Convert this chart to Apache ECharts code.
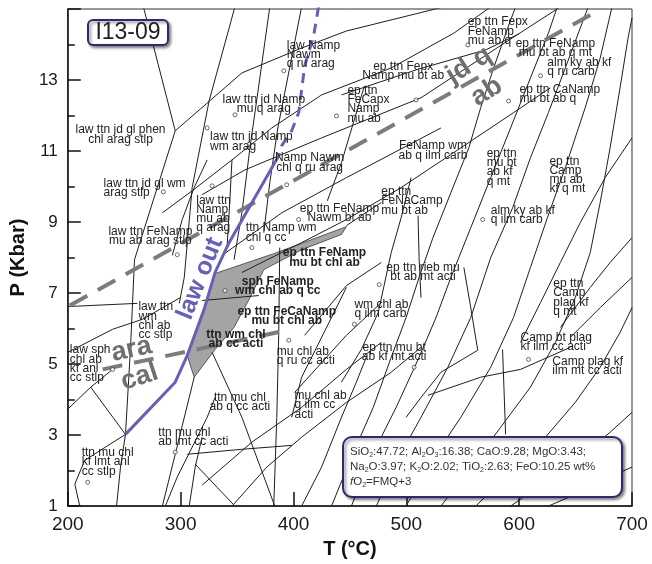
<!DOCTYPE html>
<html>
<head>
<meta charset="utf-8">
<script src="https://cdn.jsdelivr.net/npm/echarts/dist/echarts.min.js"></script>
<style>
  html, body { margin: 0; padding: 0; background: #ffffff; }
  #chart { width: 652px; height: 564px; }
</style>
</head>
<body>
<div id="chart"></div>
<script>
// P–T pseudosection for sample I13-09 (T in °C, P in kbar)

// Field boundaries, low-temperature / high-pressure part
const lowTBoundaries = [
  [[267.0, 15.06], [295.2, 11.57]],
  [[243.2, 1], [246.7, 2.1], [251.1, 3.02], [255.6, 5.47], [259.1, 7.94], [295.2, 11.57], [354.3, 13.2], [407.2, 13.9], [446.9, 14.38], [533.3, 15.06]],
  [[348.1, 15.06], [325.2, 12.41], [310.2, 9.97], [303.2, 7.44], [298.8, 6.71]],
  [[379.0, 15.06], [370.2, 13.06], [361.4, 11.09], [354.3, 9.26], [347.3, 7.94]],
  [[407.2, 15.06], [396.6, 13.34], [386.1, 11.65], [379.0, 10.11], [373.7, 8.7]],
  [[200, 5.33], [239.7, 5.98], [266.1, 6.26], [299.6, 6.87]],
  [[200, 6.62], [261.7, 6.71]],
  [[200, 3.73], [220.3, 4.35], [239.7, 4.85]],
  [[220.3, 4.35], [251.1, 3.02]],
  [[251.1, 3.02], [215.0, 2.29], [206.2, 1.62], [210.6, 1]],
  [[323.5, 10.75], [312.0, 9.97], [301.4, 9.07], [292.6, 8.06]],
  [[345.5, 10.75], [342.9, 9.21], [341.1, 8.28]],
  [[283.8, 9.26], [310.2, 9.88], [345.5, 10.75], [380.8, 11.65], [424.9, 12.58], [486.6, 13.34], [542.1, 14.32], [574.8, 15.06]],
  [[319.0, 9.77], [357.0, 10.47], [424.9, 11.37], [513.0, 12.5], [589.8, 14.1], [636.5, 15.06]],
  [[336.7, 8.06], [389.6, 9.26], [446.9, 10.25], [530.7, 11.65]],
  [[354.3, 7.58], [407.2, 8.42], [446.9, 9.07], [495.4, 9.97], [548.3, 11.09], [595.0, 12.08], [627.7, 12.78]],
  [[462.8, 12.83], [442.5, 10.67], [430.0, 9.6]],
  [[442.5, 12.58], [510.0, 13.3], [570.4, 13.85], [600.0, 14.3]],
  [[319.0, 6.79], [369.3, 6.93]],
  [[446.9, 8.9], [477.8, 9.55]]
];

// Field boundaries, low-pressure part
const lowPBoundaries = [
  [[327.9, 5.33], [354.3, 3.5], [383.4, 1]],
  [[387.8, 8.28], [386.9, 5.81], [385.2, 3.5], [382.5, 1]],
  [[305.8, 2.46], [354.3, 2.6], [398.4, 2.71]],
  [[319.0, 1.59], [363.1, 2.8], [407.2, 3.78], [446.9, 4.85], [477.8, 5.61]],
  [[345.5, 1], [376.4, 2.1], [407.2, 2.94], [446.9, 3.92], [486.6, 4.77], [513.0, 5.47]],
  [[286.4, 1], [297.0, 1.82], [310.2, 2.66], [323.5, 3.5], [330.5, 4.06]],
  [[307.6, 1], [312.9, 2.1], [319.0, 2.94]],
  [[312.9, 2.18], [332.3, 1.53], [348.1, 1]],
  [[409.9, 5.81], [446.9, 7.21], [477.8, 7.86]],
  [[401.0, 4.2], [446.9, 5.81], [477.8, 6.73]],
  [[398.4, 3.5], [407.2, 4.63], [420.5, 5.47], [433.7, 6.31], [446.9, 7.16]],
  [[312.0, 4.63], [295.2, 2.46], [283.8, 1]]
];

// Field boundaries, high-temperature part
const highTBoundaries = [
  [[433.7, 1], [451.3, 2.38], [470.7, 3.78], [486.6, 5.19], [499.8, 6.31], [511.3, 7.44], [523.6, 8.56], [539.5, 9.83], [555.4, 11.09], [565.9, 12.22], [577.4, 13.34], [589.8, 14.46], [596.8, 15.06]],
  [[451.3, 1], [468.9, 2.38], [491.0, 3.78], [511.3, 5.19], [526.3, 6.31], [539.5, 7.44], [557.1, 8.84], [574.8, 10.25], [592.4, 11.65], [610.0, 13.06], [625.9, 14.32], [633.8, 15.06]],
  [[473.4, 1], [491.0, 2.24], [513.0, 3.5], [536.8, 4.91], [557.1, 6.31], [574.8, 8.0], [594.2, 9.4], [610.0, 10.81], [625.9, 12.08], [640.9, 13.34], [654.1, 14.46], [661.2, 15.06]],
  [[499.8, 1], [521.8, 2.24], [548.3, 3.5], [574.8, 4.91], [595.0, 6.31], [610.0, 7.72], [625.0, 9.12], [640.9, 10.53], [658.5, 12.22], [671.8, 13.62], [682.3, 15.06]],
  [[530.7, 1], [557.1, 2.1], [583.6, 3.22], [610.0, 4.35], [632.1, 5.61], [649.7, 6.87], [663.0, 8.14], [671.8, 9.55], [680.6, 11.09], [689.4, 12.78], [696.5, 14.18], [700, 14.75]],
  [[561.5, 1], [592.4, 1.96], [623.3, 2.94], [649.7, 3.92], [671.8, 4.91], [689.4, 5.89], [700, 6.59]],
  [[592.4, 1], [623.3, 1.67], [654.1, 2.38], [680.6, 3.08], [700, 3.64]],
  [[625.9, 1], [654.1, 1.39], [680.6, 1.82], [700, 2.1]],
  [[407.2, 1], [424.9, 2.1], [442.5, 3.5], [455.7, 4.49], [464.5, 5.19]],
  [[700, 11.37], [676.2, 10.25], [654.1, 8.98], [636.5, 7.86], [618.9, 6.73], [601.2, 5.61]],
  [[700, 8.56], [680.6, 7.86], [663.0, 7.16], [636.5, 6.03]],
  [[700, 7.44], [671.8, 6.59], [645.3, 5.75]],
  [[442.5, 4.49], [460.1, 5.41], [475.1, 6.45], [486.6, 8.14], [495.4, 9.12], [504.2, 10.25]],
  [[510.4, 9.18], [511.3, 8.0], [513.0, 6.87]],
  [[551.0, 7.72], [557.1, 6.59], [563.3, 5.39]],
  [[563.3, 5.39], [530.7, 4.77], [513.0, 4.06], [499.8, 3.5]],
  [[519.2, 4.12], [565.9, 4.63], [601.2, 4.85], [645.3, 5.47]],
  [[585.3, 5.41], [588.0, 3.02]]
];

// Lawsonite-out reaction: dashed above, solid below
const lawsoniteOutUpper = [[422.2, 15.06], [417.8, 14.24], [409.9, 13.4], [407.2, 12.72], [404.6, 12.08], [398.4, 11.57], [389.6, 11.15], [386.9, 10.87]];
const lawsoniteOutLower = [[386.9, 10.87], [342.9, 8.42], [330.5, 7.58], [320.8, 6.54], [305.8, 5.24], [295.2, 4.49], [251.1, 3.02]];

// jd + q = ab and aragonite = calcite reactions
const jadeiteQuartzAlbite = [[201.8, 6.65], [669.1, 14.94]];
const aragoniteCalcite = [[230.9, 4.85], [389.6, 5.92]];

// Field of the observed assemblages (shaded)
const observedField = [[330.5, 7.55], [382.5, 8.11], [446.9, 8.87], [442.5, 8.65], [407.2, 8.22], [373.7, 7.66], [361.4, 6.87], [347.3, 6.03], [330.5, 5.41], [312.0, 4.63], [305.8, 5.24], [320.8, 6.54]];

// Small open circles marking narrow fields
const fieldMarkers = [
  [284.7, 9.85], [323.5, 11.65], [348.1, 12.02], [391.4, 13.26], [438.1, 11.99], [327.9, 10.02],
  [404.6, 9.07], [363.1, 8.28], [394.0, 10.05], [508.6, 12.44], [554.5, 13.99], [618.9, 13.12],
  [590.6, 12.41], [567.7, 9.07], [339.3, 7.07], [395.8, 5.67], [476.0, 7.24], [454.0, 6.12],
  [506.9, 4.91], [608.3, 5.13], [295.2, 2.52], [217.6, 1.67], [239.7, 4.85], [297.0, 8.08]
];

// Field labels: T, P, text, alignment ('l' = left edge at point, 'c' = centred), bold
const fieldLabels = [
  [246.7, 11.46, 'law ttn jd gl phen\nchl arag stlp', 'c', 0],
  [373.7, 12.31, 'law ttn jd Namp\nmu q arag', 'c', 0],
  [394.0, 13.71, 'law Namp\nNawm\nq ru arag', 'l', 0],
  [326.1, 11.26, 'law ttn jd Namp\nwm arag', 'l', 0],
  [414.3, 10.67, 'Namp Nawm\nchl q ru arag', 'c', 0],
  [231.7, 9.95, 'law ttn jd gl wm\narag stlp', 'l', 0],
  [313.8, 9.22, 'law ttn\nNamp\nmu ab\nq arag', 'l', 0],
  [273.2, 8.6, 'law ttn FeNamp\nmu ab arag stlp', 'c', 0],
  [357.8, 8.7, 'ttn Namp wm\nchl q cc', 'l', 0],
  [440.7, 9.25, 'ep ttn FeNamp\nNawm bt ab', 'c', 0],
  [477.8, 9.59, 'ep ttn\nFeNaCamp\nmu bt ab', 'l', 0],
  [523.6, 11.01, 'FeNamp wm\nab q ilm carb', 'c', 0],
  [497.2, 13.24, 'ep ttn Fepx\nNamp mu bt ab', 'c', 0],
  [447.8, 12.31, 'ep ttn\nFeCapx\nNamp\nmu ab', 'l', 0],
  [554.5, 14.37, 'ep ttn Fepx\nFeNamp\nmu ab q', 'l', 0],
  [632.1, 13.9, 'ep ttn FeNamp\nmu bt ab q mt', 'c', 0],
  [625.0, 13.37, 'alm ky ab kf\nq ru carb', 'l', 0],
  [600.3, 12.61, 'ep ttn CaNamp\nmu bt ab q', 'l', 0],
  [571.2, 10.54, 'ep ttn\nmu bt\nab kf\nq mt', 'l', 0],
  [626.8, 10.32, 'ep ttn\nCamp\nmu ab\nkf q mt', 'l', 0],
  [574.8, 9.19, 'alm ky ab kf\nq ilm carb', 'l', 0],
  [514.8, 7.58, 'ep ttn rieb mu\nbt ab mt acti', 'c', 0],
  [454.0, 6.55, 'wm chl ab\nq ilm carb', 'l', 0],
  [489.2, 5.33, 'ep ttn mu bt\nab kf mt acti', 'c', 0],
  [630.3, 6.87, 'ep ttn\nCamp\nplag kf\nq mt', 'l', 0],
  [601.2, 5.61, 'Camp bt plag\nkf ilm cc acti', 'l', 0],
  [629.4, 4.95, 'Camp plag kf\nilm mt cc acti', 'l', 0],
  [386.1, 7.2, 'sph FeNamp\nwm chl ab q cc', 'c', 1],
  [394.0, 6.35, 'ep ttn FeCaNamp\nmu bt chl ab', 'c', 1],
  [349.0, 5.71, 'ttn wm chl\nab cc acti', 'c', 1],
  [427.5, 8.0, 'ep ttn FeNamp\nmu bt chl ab', 'c', 1],
  [385.2, 5.23, 'mu chl ab\nq ru cc acti', 'l', 0],
  [352.5, 3.92, 'ttn mu chl\nab q cc acti', 'c', 0],
  [401.0, 3.85, 'mu chl ab\nq ilm cc\nacti', 'l', 0],
  [280.2, 2.94, 'ttn mu chl\nab lmt cc acti', 'l', 0],
  [212.3, 2.24, 'ttn mu chl\nkf lmt anl\ncc stlp', 'l', 0],
  [201.8, 5.0, 'law sph\nchl ab\nkf anl\ncc stlp', 'l', 0],
  [262.6, 6.21, 'law ttn\nwm\nchl ab\ncc stlp', 'l', 0]
];

// Reaction labels: T, P, text, rotation (degrees), colour key
const reactionLabels = [
  [256.4, 5.41, 'ara', 12, 'gray'],
  [263.5, 4.63, 'cal', 18, 'gray'],
  [555.4, 13.42, 'jd q', 32, 'gray'],
  [571.2, 12.67, 'ab', 32, 'gray'],
  [317.3, 7.41, 'law out', 68, 'purple']
];

const FONT = '"Liberation Sans", Arial, Helvetica, sans-serif';
const LINE_COLOR = '#1e1e1e';
const PURPLE = '#6660b6';
const REACTION_GRAY = '#7c7c7c';

function boundarySeries(lines) {
  return lines.map(function (pts) {
    return {
      type: 'line', data: pts, symbol: 'none', silent: true, z: 3,
      lineStyle: { color: LINE_COLOR, width: 1 }
    };
  });
}

const series = [];

series.push({
  type: 'custom', coordinateSystem: 'cartesian2d', silent: true, z: 1,
  data: [observedField[0]],
  renderItem: function (params, api) {
    return {
      type: 'polygon',
      shape: { points: observedField.map(function (p) { return api.coord(p); }) },
      style: { fill: '#a4a4a4', stroke: '#3a3a3a', lineWidth: 0.8 }
    };
  }
});

Array.prototype.push.apply(series, boundarySeries(lowTBoundaries));
Array.prototype.push.apply(series, boundarySeries(lowPBoundaries));
Array.prototype.push.apply(series, boundarySeries(highTBoundaries));

series.push({
  type: 'line', data: jadeiteQuartzAlbite, symbol: 'none', silent: true, z: 4,
  lineStyle: { color: REACTION_GRAY, width: 4, type: [20, 12] }
});
series.push({
  type: 'line', data: aragoniteCalcite, symbol: 'none', silent: true, z: 4,
  lineStyle: { color: REACTION_GRAY, width: 4, type: [20, 12] }
});
series.push({
  type: 'line', data: lawsoniteOutUpper, symbol: 'none', silent: true, z: 5,
  lineStyle: { color: PURPLE, width: 3, type: [10, 7] }
});
series.push({
  type: 'line', data: lawsoniteOutLower, symbol: 'none', silent: true, z: 5,
  lineStyle: { color: PURPLE, width: 3 }
});

series.push({
  type: 'scatter', data: fieldMarkers, symbol: 'circle', symbolSize: 4, silent: true, z: 6,
  itemStyle: { color: '#ffffff', borderColor: '#333333', borderWidth: 0.9 }
});

series.push({
  type: 'custom', coordinateSystem: 'cartesian2d', silent: true, z: 8,
  data: fieldLabels.map(function (d) { return [d[0], d[1]]; }),
  renderItem: function (params, api) {
    const d = fieldLabels[params.dataIndex];
    const pt = api.coord([api.value(0), api.value(1)]);
    const al = d[3] === 'l' ? 'left' : 'center';
    return {
      type: 'text', x: pt[0], y: pt[1],
      style: {
        text: d[2], fill: '#222222',
        font: (d[4] ? 'bold ' : '') + '12px ' + FONT,
        align: al, textAlign: al, verticalAlign: 'middle', textVerticalAlign: 'middle',
        lineHeight: 9.3
      }
    };
  }
});

series.push({
  type: 'custom', coordinateSystem: 'cartesian2d', silent: true, z: 9,
  data: reactionLabels.map(function (d) { return [d[0], d[1]]; }),
  renderItem: function (params, api) {
    const d = reactionLabels[params.dataIndex];
    const pt = api.coord([api.value(0), api.value(1)]);
    const purple = d[4] === 'purple';
    return {
      type: 'text', x: pt[0], y: pt[1], rotation: d[3] * Math.PI / 180,
      style: {
        text: d[2], fill: purple ? PURPLE : '#6f6f6f',
        font: 'bold ' + (purple ? '25px ' : '27px ') + FONT,
        align: 'center', textAlign: 'center', verticalAlign: 'middle', textVerticalAlign: 'middle'
      }
    };
  }
});

const boxStyle = {
  fill: '#ffffff', stroke: '#2b2b6e', lineWidth: 2,
  shadowBlur: 3, shadowOffsetX: 2, shadowOffsetY: 2, shadowColor: 'rgba(0,0,0,0.45)'
};

const chart = echarts.init(document.getElementById('chart'), null, { renderer: 'canvas' });
chart.setOption({
  animation: false,
  backgroundColor: '#ffffff',
  grid: { left: 65, right: 20, top: 9, bottom: 55, show: true, borderColor: '#333333', borderWidth: 1, backgroundColor: 'transparent' },
  xAxis: {
    type: 'value', min: 200, max: 700, interval: 100,
    name: 'T (°C)', nameLocation: 'middle', nameGap: 31,
    nameTextStyle: { fontFamily: FONT, fontSize: 20, fontWeight: 'bold', color: '#111' },
    axisLine: { show: true, lineStyle: { color: '#111', width: 1.5 } },
    axisTick: { show: true, inside: true, length: 14, lineStyle: { color: '#111', width: 1.5 } },
    axisLabel: { fontFamily: FONT, fontSize: 19, color: '#1a1a1a', margin: 9 },
    splitLine: { show: false }
  },
  yAxis: {
    type: 'value', min: 1, max: 15, interval: 2,
    name: 'P (Kbar)', nameLocation: 'middle', nameGap: 37, nameRotate: 90,
    nameTextStyle: { fontFamily: FONT, fontSize: 20, fontWeight: 'bold', color: '#111' },
    axisLine: { show: true, lineStyle: { color: '#111', width: 1.5 } },
    axisTick: { show: true, inside: true, length: 13, lineStyle: { color: '#111', width: 1.5 } },
    minorTick: { show: true, splitNumber: 2, length: 7, lineStyle: { color: '#111', width: 1.5 } },
    axisLabel: {
      fontFamily: FONT, fontSize: 17, color: '#1a1a1a', margin: 10,
      formatter: function (v) { return v >= 15 ? '' : String(v); }
    },
    splitLine: { show: false }
  },
  graphic: [
    { type: 'rect', z: 100, shape: { x: 88, y: 20, width: 80, height: 25, r: 5 }, style: boxStyle },
    {
      type: 'text', z: 101, x: 128, y: 33,
      style: { text: 'I13-09', font: '23px ' + FONT, fill: '#222', align: 'center', textAlign: 'center', verticalAlign: 'middle', textVerticalAlign: 'middle' }
    },
    { type: 'rect', z: 100, shape: { x: 343, y: 437, width: 279, height: 60, r: 9 }, style: boxStyle },
    {
      type: 'text', z: 101, x: 350, y: 444,
      style: {
        text: '{t|SiO}{s|2}{t|:47.72; Al}{s|2}{t|O}{s|3}{t|:16.38; CaO:9.28; MgO:3.43;}\n' +
              '{t|Na}{s|2}{t|O:3.97; K}{s|2}{t|O:2.02; TiO}{s|2}{t|:2.63; FeO:10.25 wt%}\n' +
              '{i|f}{t|O}{s|2}{t|=FMQ+3}',
        align: 'left', textAlign: 'left', verticalAlign: 'top', textVerticalAlign: 'top',
        rich: {
          t: { fontFamily: FONT, fontSize: 11.5, fill: '#333', lineHeight: 15, verticalAlign: 'middle' },
          i: { fontFamily: FONT, fontSize: 11.5, fontStyle: 'italic', fill: '#333', lineHeight: 15, verticalAlign: 'middle' },
          s: { fontFamily: FONT, fontSize: 7, fill: '#333', verticalAlign: 'bottom' }
        }
      }
    }
  ],
  series: series
});
</script>
</body>
</html>
